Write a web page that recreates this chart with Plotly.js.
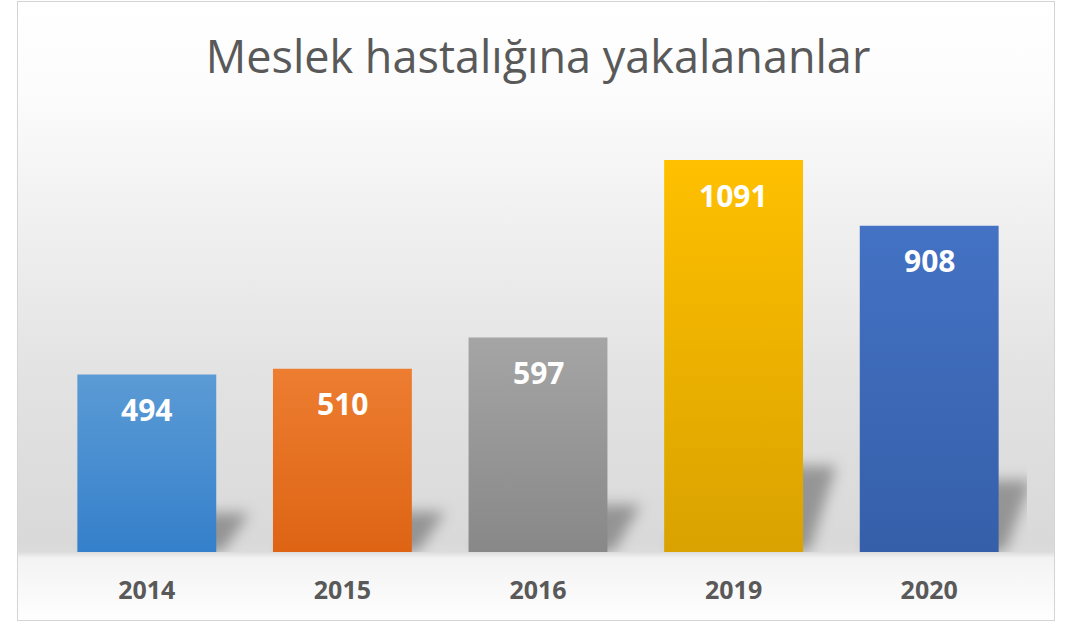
<!DOCTYPE html>
<html>
<head>
<meta charset="utf-8">
<script src="https://cdn.plot.ly/plotly-3.0.1.min.js"></script>
<style>
  html, body { margin: 0; padding: 0; background: #ffffff; }
  #frame {
    position: absolute; left: 17px; top: 1px; width: 1036px; height: 618px;
    border: 1px solid #d4d4d4;
    background: linear-gradient(to bottom, #ffffff 0px, #fcfcfc 90px, #f0f0f0 220px, #e2e2e2 380px, #d9d9d9 540px, #dcdcdc 550px, #f3f3f3 556px, #fbfbfb 600px, #ffffff 618px);
  }
  #chart { position: absolute; left: 0; top: 0; width: 1065px; height: 625px; }
</style>
</head>
<body>
<div id="frame"></div>
<div id="chart"></div>
<script>
// ---- data ----
const years = ["2014", "2015", "2016", "2019", "2020"];
const values = [494, 510, 597, 1091, 908];
const topColors = ["#5b9bd5", "#ed7d31", "#a5a5a5", "#ffc000", "#4472c4"];
const bottomColors = ["#3580cb", "#de6414", "#888888", "#d9a200", "#355fa9"];
const titleText = "Meslek hastalığına yakalananlar";

const idx = years.map((_, i) => i);
const barHalf = 0.355;

const trace = {
  type: "bar",
  x: idx,
  y: values,
  width: barHalf * 2,
  marker: { color: topColors, line: { width: 0 } },
  hoverinfo: "skip"
};

const annotations = values.map((v, i) => ({
  x: i, y: v, xref: "x", yref: "y",
  text: String(v), showarrow: false,
  yanchor: "middle", yshift: -35,
  font: { family: "Open Sans", size: 30, color: "#ffffff", weight: 700 }
}));

// soft perspective shadows behind bars
const shadows = values.map((v, i) => {
  const x0 = i - barHalf + 0.03, x1 = i + barHalf + 0.03, s = 0.14, h = v * 0.22;
  return {
    type: "path", xref: "x", yref: "y", layer: "below",
    path: `M ${x0},0 L ${x1},0 L ${x1 + s},${h} L ${x0 + s},${h} Z`,
    fillcolor: "rgba(0,0,0,0.32)", line: { width: 0 }
  };
});

const layout = {
  width: 1065, height: 625,
  margin: { l: 49, r: 38, t: 100, b: 73 },
  paper_bgcolor: "rgba(0,0,0,0)",
  plot_bgcolor: "rgba(0,0,0,0)",
  title: {
    text: titleText,
    x: 0.5, xref: "paper", xanchor: "center",
    y: 1 - 57 / 625, yref: "container", yanchor: "middle",
    font: { family: "Open Sans", size: 45, color: "#595959" }
  },
  xaxis: {
    range: [-0.5, years.length - 0.5],
    tickvals: idx, ticktext: years,
    showgrid: false, zeroline: false, showline: false, ticks: "",
    ticklabelstandoff: 21,
    tickfont: { family: "Open Sans", size: 25, color: "#595959", weight: 700 },
    fixedrange: true
  },
  yaxis: {
    range: [0, 1258],
    visible: false, showgrid: false, zeroline: false, fixedrange: true
  },
  shapes: shadows,
  annotations: annotations,
  showlegend: false
};

Plotly.newPlot("chart", [trace], layout, { displayModeBar: false, staticPlot: true }).then(gd => {
  const svg = gd.querySelector("svg.main-svg");
  const ns = "http://www.w3.org/2000/svg";
  let defs = svg.querySelector("defs");
  if (!defs) { defs = document.createElementNS(ns, "defs"); svg.insertBefore(defs, svg.firstChild); }
  topColors.forEach((c, i) => {
    const g = document.createElementNS(ns, "linearGradient");
    g.setAttribute("id", "bargrad" + i);
    g.setAttribute("x1", "0"); g.setAttribute("y1", "0");
    g.setAttribute("x2", "0"); g.setAttribute("y2", "1");
    const s1 = document.createElementNS(ns, "stop");
    s1.setAttribute("offset", "0"); s1.setAttribute("stop-color", c);
    const s2 = document.createElementNS(ns, "stop");
    s2.setAttribute("offset", "1"); s2.setAttribute("stop-color", bottomColors[i]);
    g.appendChild(s1); g.appendChild(s2);
    defs.appendChild(g);
  });
  const f = document.createElementNS(ns, "filter");
  f.setAttribute("id", "shadowblur");
  f.setAttribute("x", "-50%"); f.setAttribute("y", "-50%");
  f.setAttribute("width", "200%"); f.setAttribute("height", "200%");
  const b = document.createElementNS(ns, "feGaussianBlur");
  b.setAttribute("stdDeviation", "7");
  f.appendChild(b); defs.appendChild(f);

  gd.querySelectorAll(".barlayer .point path").forEach((p, i) => {
    p.style.fill = "url(#bargrad" + i + ")";
  });
  gd.querySelectorAll(".shapelayer path").forEach(p => {
    p.setAttribute("filter", "url(#shadowblur)");
    p.style.filter = "url(#shadowblur)";
  });
});
</script>
</body>
</html>
